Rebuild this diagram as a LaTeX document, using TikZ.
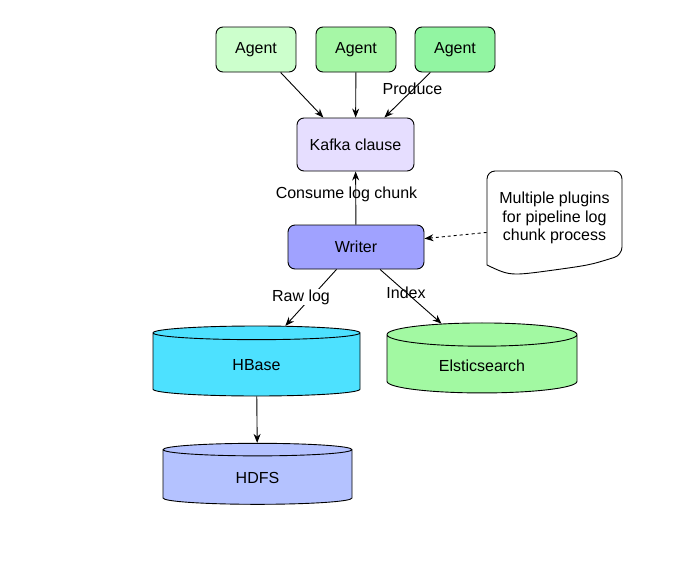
\documentclass[tikz,border=0pt]{standalone}
\usepackage{fontspec}
\setmainfont{Liberation Sans}
\usetikzlibrary{arrows.meta,shapes.geometric}
\definecolor{agentA}{HTML}{CCFFCC}
\definecolor{agentB}{HTML}{A6F7A6}
\definecolor{agentC}{HTML}{92F5A2}
\definecolor{kafkafill}{HTML}{E6DEFF}
\definecolor{writerfill}{HTML}{A0A2FF}
\definecolor{hbasefill}{HTML}{4DE1FF}
\definecolor{esfill}{HTML}{A2F9A2}
\definecolor{hdfsfill}{HTML}{B4C2FF}
\tikzset{
	txt/.style={font=\fontsize{16}{18.5}\selectfont},
	agentbox/.style={txt, draw, rounded corners=7, minimum width=80, minimum height=45},
	store/.style={txt, cylinder, shape border rotate=90, aspect=0.25, draw},
	link/.style={-{Stealth[length=9,width=7]}},
}
\begin{document}
\begin{tikzpicture}[x=1pt,y=-1pt,line width=0.9pt]
			\useasboundingbox (0,0) rectangle (693,576);
			\node[agentbox,fill=agentA] (agent1) at(256,49.5){Agent};
			\node[agentbox,fill=agentB] (agent2) at(356,49.5){Agent};
			\node[agentbox,fill=agentC] (agent3) at(455,49.5){Agent};
			\node[agentbox,fill=kafkafill,minimum width=117,minimum height=53] (kafka) at(355.5,144.5){Kafka clause};
			\node[agentbox,fill=writerfill,minimum width=136,minimum height=44] (writer) at(356,247){Writer};
			\draw[fill=white,rounded corners=8] (487,265) -- (487,171) -- (622,171) -- (622,255) [sharp corners] .. controls (590,265) .. (554,270) .. controls (510,276) .. (487,265);
			\node[txt,align=center,minimum width=135,minimum height=94] (note) at(554.5,218){Multiple plugins\\for pipeline log\\chunk process};
			\node[store,fill=hbasefill,minimum width=207,minimum height=70] (hbase) at(256.5,365.5){HBase};
			\node[store,fill=esfill,minimum width=190,minimum height=70] (es) at(482,365.5){Elsticsearch};
			\node[store,fill=hdfsfill,minimum width=189,minimum height=61] (hdfs) at(257.5,478){HDFS};
			\draw[link](agent1.-43)--(kafka.140);
			\draw[link](agent2)--(kafka);
			\draw[link](agent3.223)--(kafka.43);
			\node[txt] (produce) at(412.5,89){Produce};
			\draw[link](writer)--(kafka);
			\node[txt] (consume) at(346.5,194){Consume log chunk};
			\draw[link,dashed](note.192)--(writer.7);
			\draw[link](writer.229)--(hbase.54);
			\node[txt,fill=white,inner sep=1] (rawlog) at(301,297){Raw log};
			\draw[link](writer.317)--(es.134);
			\node[txt] (index) at(406,293){Index};
			\draw[link](hbase)--(hdfs);
\end{tikzpicture}
\end{document}
